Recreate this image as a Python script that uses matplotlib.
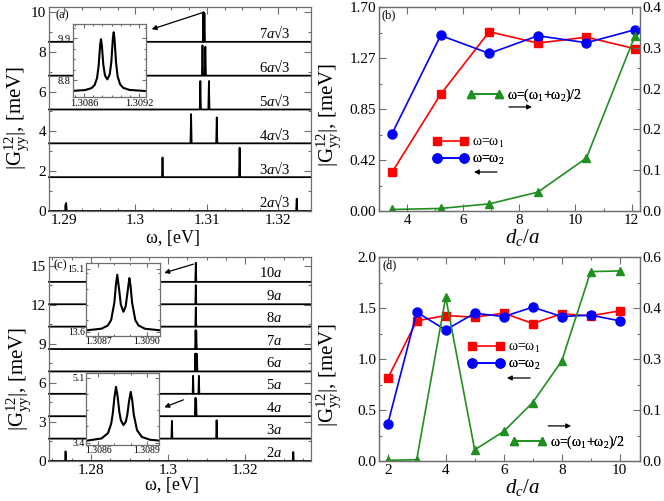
import matplotlib
matplotlib.use("Agg")
import matplotlib.pyplot as plt
from matplotlib.ticker import MultipleLocator

plt.rcParams['font.family'] = ['Liberation Serif', 'DejaVu Serif']
plt.rcParams['mathtext.fontset'] = 'custom'
plt.rcParams['mathtext.rm'] = 'Liberation Serif'
plt.rcParams['mathtext.it'] = 'Liberation Serif:italic'
plt.rcParams['mathtext.bf'] = 'Liberation Serif:bold'

W, H = 664, 501
SPINE = '#6e6e6e'
RED, BLUE, GREEN = '#ff0000', '#0000ff', '#1f8f1f'
GLABEL = r'|G$^{12}_{\mathrm{yy}}$|, [meV]'

# --- (a) spectra for d_c = n a sqrt(3), each trace shifted by 1.7 meV ---
a_n = [2, 3, 4, 5, 6, 7]
a_shift = [0.0, 1.7, 3.4, 5.1, 6.8, 8.5]
a_peak_w = [[1.2903, 1.3226], [1.3038, 1.3146], [1.3078, 1.3114],
            [1.3091, 1.3103], [1.3094, 1.3098], [1.30953, 1.30967]]
a_peak_h = [[0.40, 0.62], [0.99, 1.48], [1.47, 1.30],
            [1.43, 1.43], [1.52, 1.45], [1.50, 1.44]]

# (a) inset: the 7a*sqrt(3) doublet
a_in_w = [1.308472, 1.308611, 1.308681, 1.308716, 1.308742, 1.308759, 1.308776,
          1.308785, 1.308794, 1.308811, 1.308829, 1.308855, 1.308881, 1.308898,
          1.308915, 1.308924, 1.308933, 1.308950, 1.308967, 1.308994, 1.309028,
          1.309098, 1.309263]
a_in_g = [8.513, 8.535, 8.585, 8.669, 8.85, 9.16, 9.72, 9.876, 9.734, 9.196,
          8.917, 8.817, 8.952, 9.276, 9.897, 10.06, 9.887, 9.245, 8.893, 8.687,
          8.593, 8.538, 8.511]

# --- (b) peak values vs d_c/a ---
b_dc = [3.464, 5.196, 6.928, 8.660, 10.392, 12.124]
b_w1 = [0.323, 0.973, 1.494, 1.399, 1.449, 1.352]
b_w2 = [0.644, 1.463, 1.313, 1.460, 1.402, 1.511]
b_mid = [0.003, 0.005, 0.014, 0.037, 0.104, 0.344]

# --- (c) spectra for d_c = n a, shifted by 1.72 meV ---
c_n = [2, 3, 4, 5, 6, 7, 8, 9, 10]
c_shift = [0.0, 1.72, 3.44, 5.16, 6.88, 8.60, 10.32, 12.04, 13.76]
c_peak_w = [[1.2734, 1.3325], [1.3010, 1.3126], [1.30712, 1.30728],
            [1.3065, 1.3080], [1.3071, 1.3075], [1.30715, 1.30732],
            [1.3072], [1.3072], [1.3072]]
c_peak_h = [[0.74, 0.69], [1.36, 1.41], [1.41, 1.35],
            [1.38, 1.38], [1.38, 1.35], [1.45, 1.40],
            [1.47], [1.47], [1.47]]

# (c) upper inset: 10a doublet
c_up_w = [1.30863, 1.30872, 1.30876, 1.30878, 1.30880, 1.30881, 1.308818,
          1.30883, 1.30884, 1.308856, 1.30887, 1.30888, 1.308893, 1.30890,
          1.30891, 1.30893, 1.30895, 1.30899, 1.30908]
c_up_g = [13.637, 13.674, 13.752, 13.881, 14.30, 14.735, 14.959, 14.589, 14.25,
          14.077, 14.206, 14.497, 14.879, 14.711, 14.293, 13.877, 13.75, 13.673,
          13.637]

# (c) lower inset: 4a doublet
c_lo_w = [1.30853, 1.30862, 1.30866, 1.30868, 1.30869, 1.30870, 1.30871,
          1.30872, 1.30873, 1.30874, 1.308756, 1.30877, 1.30878, 1.30879,
          1.308801, 1.30881, 1.30882, 1.30884, 1.30887, 1.30892, 1.30898]
c_lo_g = [3.454, 3.511, 3.649, 3.894, 4.166, 4.581, 4.858, 4.606, 4.219, 3.983,
          3.861, 3.941, 4.132, 4.468, 4.729, 4.516, 4.133, 3.726, 3.55, 3.478,
          3.454]

# --- (d) peak values vs d_c/a ---
d_dc = [2, 3, 4, 5, 6, 7, 8, 9, 10]
d_w1 = [0.81, 1.374, 1.426, 1.41, 1.449, 1.348, 1.443, 1.423, 1.472]
d_w2 = [0.361, 1.459, 1.285, 1.449, 1.416, 1.508, 1.416, 1.43, 1.374]
d_mid = [0.002, 0.004, 0.482, 0.033, 0.087, 0.172, 0.294, 0.557, 0.559]


def box(l, r, t, b):
    """pixel box -> figure fraction rect"""
    return [l / W, 1 - b / H, (r - l) / W, (b - t) / H]


def style(ax, size=11, major=5, minor=2.5, pad=2, **kw):
    for s in ax.spines.values():
        s.set_color(SPINE)
        s.set_linewidth(0.9)
    ax.tick_params(which='both', direction='in', color=SPINE, width=0.8,
                   labelsize=size, pad=pad, **kw)
    ax.tick_params(which='major', length=major)
    ax.tick_params(which='minor', length=minor)


def spike_trace(x0, x1, base, centers, heights, hw):
    xs, ys = [x0], [base]
    for c, h in zip(centers, heights):
        xs += [c - hw, c, c + hw]
        ys += [base, base + h, base]
    xs.append(x1)
    ys.append(base)
    return xs, ys


def key(ax, handle, label, x, y):
    lg = ax.legend([handle], [label], loc='center left', bbox_to_anchor=(x, y),
                   frameon=False, numpoints=2, handlelength=2.6,
                   handletextpad=0.25, borderpad=0, borderaxespad=0, fontsize=10)
    ax.add_artist(lg)


def arrow(ax, tail, head):
    ax.annotate('', xy=head, xytext=tail, xycoords='axes fraction',
                arrowprops=dict(arrowstyle='-|>', color='k', lw=0.9,
                                mutation_scale=7, shrinkA=0, shrinkB=0))


fig = plt.figure(figsize=(W / 100, H / 100), dpi=100)

# ---------------- (a) ----------------
ax = fig.add_axes(box(49, 311, 7, 211))
xa = (1.2879, 1.3246)
for n, sh, pw, ph in zip(a_n, a_shift, a_peak_w, a_peak_h):
    xs, ys = spike_trace(xa[0], xa[1], sh, pw, ph, 0.00008)
    ax.plot(xs, ys, color='k', lw=1.3, clip_on=False)
    ax.text(1.3217, sh + 0.44, f'{n}$a$√3', ha='right', va='center', fontsize=10.5)
ax.set_xlim(*xa)
ax.set_ylim(0, 10.25)
ax.set_xticks([1.29, 1.30, 1.31, 1.32], ['1.29', '1.3', '1.31', '1.32'])
ax.set_yticks([0, 2, 4, 6, 8, 10])
ax.xaxis.set_minor_locator(MultipleLocator(0.0025))
ax.yaxis.set_minor_locator(MultipleLocator(1))
style(ax, top=True, right=True)
ax.set_xlabel('ω, [eV]', fontsize=13)
ax.xaxis.set_label_coords(0.473, -0.093)
ax.set_ylabel(GLABEL, fontsize=15)
ax.yaxis.set_label_coords(-0.069, 0.456)
ax.text(0.023, 0.96, '(a)', transform=ax.transAxes, fontsize=9, va='center')
arrow(ax, (0.583, 0.971), (0.392, 0.891))

ins = fig.add_axes(box(73, 145.7, 24.3, 96.7))
ins.plot(a_in_w, a_in_g, color='k', lw=1.5)
ins.set_xlim(1.30848, 1.309273)
ins.set_ylim(8.36, 10.27)
ins.set_xticks([1.3086, 1.3092], ['1.3086', '1.3092'])
ins.set_yticks([8.8, 9.9], ['8.8', '9.9'])
ins.xaxis.set_minor_locator(MultipleLocator(0.0001))
ins.yaxis.set_minor_locator(MultipleLocator(0.275))
style(ins, size=7.5, major=3, minor=1.5, pad=1.5, top=True, right=True)

# ---------------- (b) ----------------
ax = fig.add_axes(box(379, 640, 7, 211))
ax2 = ax.twinx()
r, = ax.plot(b_dc, b_w1, color=RED, marker='s', ms=6, lw=1.2)
bl, = ax.plot(b_dc, b_w2, color=BLUE, marker='o', ms=6.5, lw=1.2)
g, = ax2.plot(b_dc, b_mid, color=GREEN, marker='^', ms=6, lw=1.2)
ax.set_xlim(3.0, 12.3)
ax.set_ylim(0, 1.70)
ax2.set_ylim(0, 0.40)
ax.set_xticks([4, 6, 8, 10, 12])
ax.xaxis.set_minor_locator(MultipleLocator(1))
ax.set_yticks([0, 0.425, 0.85, 1.275, 1.70], ['0.00', '0.42', '0.85', '1.27', '1.70'])
ax.yaxis.set_minor_locator(MultipleLocator(0.2125))
ax2.set_yticks([0, 0.08, 0.16, 0.24, 0.32, 0.40],
               ['0.0', '0.1', '0.2', '0.2', '0.3', '0.4'])
ax2.yaxis.set_minor_locator(MultipleLocator(0.04))
style(ax, top=True, right=False)
style(ax2, right=True, left=False)
ax.set_xlabel('$d_c/a$', fontsize=15)
ax.xaxis.set_label_coords(0.55, -0.078)
ax.set_ylabel(GLABEL, fontsize=15)
ax.yaxis.set_label_coords(-0.138, 0.47)
ax.text(0.01, 0.96, '(b)', transform=ax.transAxes, fontsize=9, va='center')
key(ax, r, 'ω=ω$_1$', 0.2046, 0.333)
key(ax, bl, 'ω=ω$_2$', 0.2046, 0.25)
key(ax2, g, 'ω=(ω$_1$+ω$_2$)/2', 0.337, 0.569)
arrow(ax, (0.452, 0.191), (0.364, 0.191))
arrow(ax, (0.498, 0.51), (0.586, 0.51))

# ---------------- (c) ----------------
ax = fig.add_axes(box(49, 311, 257, 461))
xc = (1.2691, 1.3371)
for n, sh, pw, ph in zip(c_n, c_shift, c_peak_w, c_peak_h):
    xs, ys = spike_trace(xc[0], xc[1], sh, pw, ph, 0.00012)
    ax.plot(xs, ys, color='k', lw=1.3, clip_on=False)
    ax.text(1.3297, sh + 0.65, f'{n}$a$', ha='right', va='center', fontsize=10.5)
ax.set_xlim(*xc)
ax.set_ylim(0, 15.67)
ax.set_xticks([1.28, 1.30, 1.32], ['1.28', '1.3', '1.32'])
ax.set_yticks([0, 3, 6, 9, 12, 15])
ax.xaxis.set_minor_locator(MultipleLocator(0.005))
ax.yaxis.set_minor_locator(MultipleLocator(1.5))
style(ax, top=True, right=True)
ax.set_xlabel('ω, [eV]', fontsize=13)
ax.xaxis.set_label_coords(0.47, -0.078)
ax.set_ylabel(GLABEL, fontsize=15)
ax.yaxis.set_label_coords(-0.061, 0.40)
ax.text(0.018, 0.96, '(c)', transform=ax.transAxes, fontsize=9, va='center')
arrow(ax, (0.551, 0.965), (0.440, 0.922))
arrow(ax, (0.513, 0.300), (0.440, 0.263))

ins = fig.add_axes(box(86, 160, 263, 336))
ins.plot(c_up_w, c_up_g, color='k', lw=1.5)
ins.set_xlim(1.308624, 1.309083)
ins.set_ylim(13.50, 15.24)
ins.set_xticks([1.3087, 1.3090], ['1.3087', '1.3090'])
ins.set_yticks([13.6, 15.1], ['13.6', '15.1'])
ins.xaxis.set_minor_locator(MultipleLocator(0.0001))
ins.yaxis.set_minor_locator(MultipleLocator(0.375))
style(ins, size=7, major=3, minor=1.5, pad=1, top=True, right=True)

ins = fig.add_axes(box(86, 159.3, 372.7, 445))
ins.plot(c_lo_w, c_lo_g, color='k', lw=1.5)
ins.set_xlim(1.308524, 1.308978)
ins.set_ylim(3.34, 5.23)
ins.set_xticks([1.3086, 1.3089], ['1.3086', '1.3089'])
ins.set_yticks([3.4, 5.1], ['3.4', '5.1'])
ins.xaxis.set_minor_locator(MultipleLocator(0.0001))
ins.yaxis.set_minor_locator(MultipleLocator(0.425))
style(ins, size=7, major=3, minor=1.5, pad=1, top=True, right=True)

# ---------------- (d) ----------------
ax = fig.add_axes(box(379, 640, 257, 461))
ax2 = ax.twinx()
r, = ax.plot(d_dc, d_w1, color=RED, marker='s', ms=6, lw=1.2)
bl, = ax.plot(d_dc, d_w2, color=BLUE, marker='o', ms=6.5, lw=1.2)
g, = ax2.plot(d_dc, d_mid, color=GREEN, marker='^', ms=6, lw=1.2)
ax.set_xlim(1.7, 10.7)
ax.set_ylim(0, 2.0)
ax2.set_ylim(0, 0.60)
ax.set_xticks([2, 4, 6, 8, 10])
ax.xaxis.set_minor_locator(MultipleLocator(1))
ax.set_yticks([0, 0.5, 1.0, 1.5, 2.0], ['0.0', '0.5', '1.0', '1.5', '2.0'])
ax.yaxis.set_minor_locator(MultipleLocator(0.25))
ax2.set_yticks([0, 0.15, 0.30, 0.45, 0.60], ['0.0', '0.1', '0.3', '0.4', '0.6'])
ax2.yaxis.set_minor_locator(MultipleLocator(0.075))
style(ax, top=True, right=False)
style(ax2, right=True, left=False)
ax.set_xlabel('$d_c/a$', fontsize=15)
ax.xaxis.set_label_coords(0.55, -0.078)
ax.set_ylabel(GLABEL, fontsize=15)
ax.yaxis.set_label_coords(-0.138, 0.42)
ax.text(0.012, 0.96, '(d)', transform=ax.transAxes, fontsize=9, va='center')
key(ax, r, 'ω=ω$_1$', 0.341, 0.554)
key(ax, bl, 'ω=ω$_2$', 0.341, 0.471)
key(ax2, g, 'ω=(ω$_1$+ω$_2$)/2', 0.503, 0.093)
arrow(ax, (0.579, 0.407), (0.490, 0.407))
arrow(ax, (0.648, 0.172), (0.736, 0.172))

fig.savefig('out.png', dpi=100)
